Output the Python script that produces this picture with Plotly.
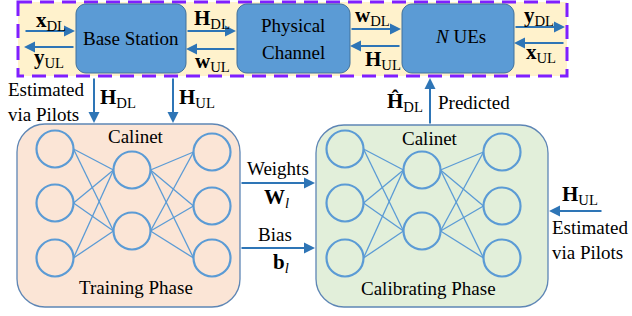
import plotly.graph_objects as go

# ---------------- diagram content ----------------
top_blocks = ["Base Station", "Physical", "Channel", "<i>N</i> UEs"]
fwd_signals = ["<b>x</b><sub>DL</sub>", "<b>H</b><sub>DL</sub>", "<b>w</b><sub>DL</sub>", "<b>y</b><sub>DL</sub>"]
back_signals = ["<b>y</b><sub>UL</sub>", "<b>w</b><sub>UL</sub>", "<b>H</b><sub>UL</sub>", "<b>x</b><sub>UL</sub>"]
layer_sizes = [3, 2, 3]
net_name = "Calinet"
phase_titles = ["Training Phase", "Calibrating Phase"]
link_labels = ["Weights", "<b>W</b><sub><i>l</i></sub>", "Bias", "<b>b</b><sub><i>l</i></sub>"]
pilot_label = "Estimated<br>via Pilots"
h_dl_label = "<b>H</b><sub>DL</sub>"
h_ul_label = "<b>H</b><sub>UL</sub>"
pred_labels = ["<b>Ĥ</b><sub>DL</sub>", "Predicted"]

# ---------------- styles ----------------
SERIF = "Liberation Serif"
ARROW = "#2E75B6"
NODE = "#5B9BD5"
W, H = 632, 316

fig = go.Figure()
shapes = []


def rrect(x0, y0, x1, y1, r, fill, line, lw=1.0):
    k = 0.45 * r
    p = (f"M{x0+r},{y0} L{x1-r},{y0} C{x1-k},{y0} {x1},{y0+k} {x1},{y0+r} "
         f"L{x1},{y1-r} C{x1},{y1-k} {x1-k},{y1} {x1-r},{y1} "
         f"L{x0+r},{y1} C{x0+k},{y1} {x0},{y1-k} {x0},{y1-r} "
         f"L{x0},{y0+r} C{x0},{y0+k} {x0+k},{y0} {x0+r},{y0} Z")
    shapes.append(dict(type="path", path=p, xref="x", yref="y", fillcolor=fill,
                       line=dict(color=line, width=lw), layer="below"))


def arrow(x0, y0, x1, y1):
    fig.add_annotation(x=x1, y=y1, ax=x0, ay=y0, xref="x", yref="y", axref="x", ayref="y",
                       text="", showarrow=True, arrowhead=2, arrowsize=1.1, arrowwidth=2,
                       arrowcolor=ARROW, standoff=0, startstandoff=0)


def label(x, y, t, size=19, xanchor="center", align="center"):
    fig.add_annotation(x=x, y=y, xref="x", yref="y", text=t, showarrow=False,
                       xanchor=xanchor, yanchor="middle", align=align,
                       font=dict(family=SERIF, size=size, color="black"))


# ---------------- top band ----------------
shapes.append(dict(type="rect", x0=18, y0=2, x1=567, y1=76, xref="x", yref="y",
                   fillcolor="#FFF2CC", line=dict(color="#7F1FFF", width=3, dash="14px,8px"),
                   layer="below"))
rrect(76, 4, 186, 73, 10, NODE, "#41719C")
rrect(237, 4, 350, 73, 10, NODE, "#41719C")
rrect(402, 4, 514, 73, 10, NODE, "#41719C")
label(131, 38, top_blocks[0])
label(293, 25, top_blocks[1])
label(293, 52, top_blocks[2])
label(460, 36, top_blocks[3])

arrow(24, 31, 75, 31);   label(51, 21, fwd_signals[0], 21)
arrow(75, 47, 24, 47);   label(49, 58, back_signals[0], 21)
arrow(186, 31, 236, 31); label(212, 19, fwd_signals[1], 21)
arrow(236, 49, 186, 49); label(212, 62, back_signals[1], 21)
arrow(350, 29, 401, 29); label(372, 16, fwd_signals[2], 21)
arrow(401, 46, 350, 46); label(383, 60, back_signals[2], 21)
arrow(514, 27, 565, 27); label(539, 16, fwd_signals[3], 21)
arrow(565, 43, 514, 43); label(541, 53, back_signals[3], 21)

# ---------------- phase boxes ----------------
rrect(17, 124, 240, 307, 28, "#FBE5D6", "#5E86B5", 1.3)
rrect(316, 125, 548, 307, 28, "#E2EFDA", "#5E86B5", 1.3)

layer_x = [55, 132, 212]
layer_y = [[149, 203, 258], [170, 231], [152, 206, 258]]
r = 18.5
for dx in (0, 290):
    cols = []
    for li, n in enumerate(layer_sizes):
        cols.append([(layer_x[li] + dx, y) for y in layer_y[li][:n]])
    for a, b in zip(cols[:-1], cols[1:]):
        for (xa, ya) in a:
            for (xb, yb) in b:
                shapes.append(dict(type="line", x0=xa + r, y0=ya, x1=xb - r, y1=yb,
                                   xref="x", yref="y", line=dict(color=NODE, width=1.3)))
    for col in cols:
        for (cx, cy) in col:
            shapes.append(dict(type="circle", x0=cx - r, x1=cx + r, y0=cy - r, y1=cy + r,
                               xref="x", yref="y", line=dict(color=NODE, width=2.2),
                               fillcolor="rgba(0,0,0,0)"))

label(136, 136, net_name)
label(136, 287, phase_titles[0])
label(430, 138, net_name)
label(428, 288, phase_titles[1])

# ---------------- connecting arrows ----------------
arrow(94, 77, 94, 123)
arrow(173, 77, 173, 123)
label(6, 102, pilot_label, 19, xanchor="left", align="left")
label(118, 98, h_dl_label, 21)
label(197, 98, h_ul_label, 21)

arrow(430, 125, 430, 78)
label(405, 102, pred_labels[0], 21)
label(436, 102, pred_labels[1], 19, xanchor="left")

arrow(240, 183, 315, 183)
arrow(240, 248, 315, 248)
label(278, 168, link_labels[0])
label(276, 198, link_labels[1], 21)
label(275, 234, link_labels[2])
label(281, 263, link_labels[3], 21)

arrow(603, 211, 549, 211)
label(580, 195, h_ul_label, 21)
label(550, 240, pilot_label, 19, xanchor="left", align="left")

fig.update_layout(
    width=W, height=H, margin=dict(l=0, r=0, t=0, b=0),
    font=dict(family=SERIF, color="black"),
    paper_bgcolor="white", plot_bgcolor="white",
    xaxis=dict(range=[0, W], visible=False, fixedrange=True),
    yaxis=dict(range=[H, 0], visible=False, fixedrange=True),
    shapes=shapes, showlegend=False,
)
fig.write_html("out.html", config={"displayModeBar": False},
               post_script="document.body.style.margin='0px';document.body.style.overflow='hidden';")
